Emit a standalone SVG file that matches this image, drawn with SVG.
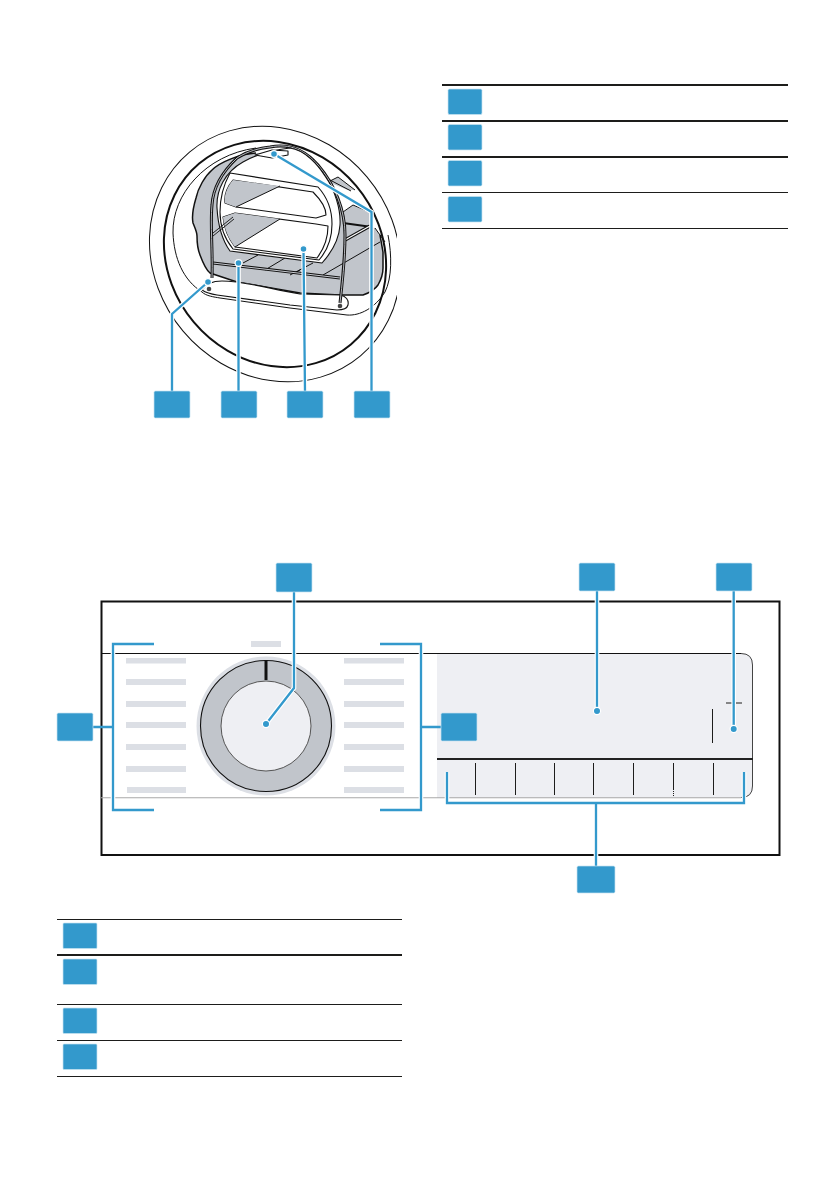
<svg xmlns="http://www.w3.org/2000/svg" width="840" height="1192" viewBox="0 0 840 1192">
<defs>
<style>
.box{fill:#3399cc;stroke:#c6e2f0;stroke-width:.7}
.halo{fill:none;stroke:#fff;stroke-width:4.6}
.lead{fill:none;stroke:#3399cc;stroke-width:2.3}
.dot{fill:#3399cc;stroke:#fff;stroke-width:1.2}
.bar{fill:#dcdfe5}
.rule{stroke:#1d1d1b;stroke-width:1.2}
.ruleb{stroke:#1d1d1b;stroke-width:2}
.tick{stroke:#1d1d1b;stroke-width:1}
.ln{fill:none;stroke:#111;stroke-width:1}
.gr{fill:#c1c5cb;stroke:none}
.fr{fill:#fff;stroke:#111;stroke-width:1.1;stroke-linejoin:round}
</style>
<clipPath id="c"><rect x="130" y="100" width="267" height="320"/></clipPath>
</defs>
<rect width="840" height="1192" fill="#fff"/>

<g id="door-illustration" clip-path="url(#c)">
<ellipse cx="275" cy="254" rx="133" ry="120" transform="rotate(50 275 254)" fill="#fff" stroke="#111" stroke-width="1"/>
<ellipse cx="275" cy="254" rx="118" ry="106" transform="rotate(50 275 254)" fill="#fff" stroke="#111" stroke-width="2"/>
<path class="ln" d="M256 148C205 155 172 195 173 233C174 258 183 280 202 292"/>
<path class="ln" stroke-width="1.200" d="M347 315C360 316 375 308 385 292C392 278 392 255 388 235"/>
<path d="M256 153C240 154 220 162 212 170C205 176 198 188 196 198C193 208 192 218 193 223C195 228 197 232 197 236C197 245 198 250 200 255C203 263 206 270 210 273L237 282L300 293L340 295L363 295C370 293 376 288 378 285C382 278 383 272 383 268L383 252L380 235L375 228L372 227L372 213L353 205L343 212L330 190L290 160Z" class="gr"/>
<path d="M256 153C240 154 220 162 212 170C205 176 198 188 196 198C193 208 192 218 193 223C195 228 197 232 197 236C197 245 198 250 200 255C203 263 206 270 210 273L237 282L300 293L340 295L363 295C370 293 376 288 378 285C382 278 383 272 383 268L383 252L380 235" fill="none" stroke="#111" stroke-width="1.500"/>
<path d="M328 182L338 177L355 190L348 190Z" class="gr"/>
<path class="ln" d="M338 177L355 190M328 182L338 177M330 180L351 191M353 205L372 213M343 212L353 205M375 228L385 242"/>
<path d="M343 223L372 227" fill="none" stroke="#111" stroke-width="2"/>
<path d="M345 240L370 226" fill="none" stroke="#111" stroke-width="3.200"/>
<path d="M345 240L370 226" fill="none" stroke="#fff" stroke-width="1.200"/>
<path class="ln" d="M323 275L380 242M243 263L258 255M265 270L285 258M295 273L300 270M290 275L313 263"/>
<path d="M213 263L340 278" fill="none" stroke="#111" stroke-width="3"/>
<path d="M213 263L340 278" fill="none" stroke="#c9ccd2" stroke-width="1"/>
<path d="M202 290C205 285 212 281 222 281C245 281 270 289 300 294L340 295C346 296 349 300 348 305C347 309 343 310 337 310L290 305L217 295C210 294 205 292 202 290Z" class="fr"/>
<path class="ln" d="M202 292C206 296 214 297 220 298L290 308L347 315"/>
<path d="M212 278C213 250 210 225 212 205C213 188 222 172 237 158C248 151 260 148 270 147C290 143 305 150 318 165C335 185 345 210 345 235C345 260 342 285 340 303" fill="none" stroke="#111" stroke-width="3"/>
<path d="M212 278C213 250 210 225 212 205C213 188 222 172 237 158C248 151 260 148 270 147C290 143 305 150 318 165C335 185 345 210 345 235C345 260 342 285 340 303" fill="none" stroke="#c9ccd2" stroke-width=".9"/>
<path class="fr" d="M230 251C222 240 218 225 217 208C216 190 225 172 243 162C255 155 275 150 290 148C305 150 318 165 325 176C335 190 341 210 340 225C339 240 332 252 322 263Z"/>
<path class="fr" d="M230 173L318 187C328 198 332 212 332 224C332 240 326 252 319 260L233 249C224 238 220 225 220 212C220 198 224 184 230 173Z" fill="#fff"/>
<path class="fr" d="M233 180L313 192C321 200 326 208 326 215L316 218L236 207L225 203C224 195 227 187 233 180Z"/>
<path class="gr" d="M233 180L280 186L236 207L225 203C224 195 227 187 233 180Z"/>
<path class="ln" d="M280 186L236 207"/>
<path class="fr" d="M223 217L235 213L316 224L328 226C328 240 323 250 317 258L235 247C228 238 224 228 223 217Z"/>
<path class="gr" d="M223 217L235 213L280 219L235 247C228 238 224 228 223 217Z"/>
<path class="ln" d="M280 219L235 247"/>
<path d="M213 233L233 217M213 236L234 219" fill="none" stroke="#111" stroke-width=".9"/>
<path class="fr" d="M255 155L272 150L288 151L288 155L272 158Z"/>
<circle cx="209" cy="289" r="2.300" fill="#444"/>
<circle cx="340" cy="306" r="2.300" fill="#444"/>
</g>

<g id="control-panel">
<rect x="101.500" y="601.500" width="678" height="253.500" fill="#fff" stroke="#111" stroke-width="2"/>
<path d="M437 653H740Q753 653 753 666V785Q753 798 740 798H437Z" fill="#eeeff3"/>
<path d="M741 653.500Q752.500 653.500 752.500 665V786Q752.500 797.500 741 797.500" fill="none" stroke="#444" stroke-width="1"/>
<path d="M101 653.500H741" stroke="#111" stroke-width="1.100"/>
<path d="M101 797.800H741" stroke="#a8a8a8" stroke-width="1.100"/>
<g class="bar">
<rect x="251" y="641" width="30" height="6"/>
<rect x="126" y="658" width="60" height="5.500"/><rect x="126" y="679" width="60" height="6"/><rect x="126" y="701" width="60" height="6"/><rect x="126" y="722" width="60" height="6"/><rect x="126" y="744" width="60" height="6"/><rect x="126" y="766" width="60" height="6"/><rect x="127" y="787" width="59" height="6"/>
<rect x="344" y="658" width="60" height="5.500"/><rect x="344" y="679" width="60" height="6"/><rect x="344" y="701" width="60" height="6"/><rect x="344" y="722" width="60" height="6"/><rect x="344" y="744" width="60" height="6"/><rect x="344" y="766" width="60" height="6"/><rect x="344" y="787" width="60" height="6"/>
</g>
<g id="dial">
<circle cx="266" cy="726" r="69.500" fill="#dcdfe5"/>
<circle cx="266" cy="726" r="65.500" fill="#c1c5cb" stroke="#111" stroke-width="1.100"/>
<circle cx="266" cy="726" r="45" fill="#eeeff3" stroke="#555" stroke-width="1"/>
<path d="M266 660V680" stroke="#111" stroke-width="3"/>
</g>
<path d="M437 759H753" stroke="#222" stroke-width="2"/>
<g class="tick">
<path d="M475.500 763V795M515.500 763V795M554.500 763V795M593.500 763V795M633.500 763V795M673.500 763V789M713.500 763V795M712.500 709V743M726 703H733M735 703H742"/>
</g>
<path d="M673.500 789V796" stroke="#1d1d1b" stroke-width="1" stroke-dasharray="1 1"/>
</g>

<g id="connectors">
<path class="halo" d="M172 391V314L208 282M238.500 391V263M305 391L303.500 249M371.500 391V212L274 154"/>
<path class="lead" d="M172 391V314L208 282M238.500 391V263M305 391L303.500 249M371.500 391V212L274 154"/>
<path class="halo" d="M294 592V688L266 724M597 591V711M733.700 591V729M596 866V803H447V772M596 803H744V772"/>
<path class="lead" d="M294 592V688L266 724M597 591V711M733.700 591V729M596 866V803H447V772M596 803H744V772"/>
<path class="halo" d="M154 644H113V810H154M380 644H421V810H380"/>
<path class="lead" d="M154 644H113V810H154M93 727H113M380 644H421V810H380M421 727H441"/>
<circle class="dot" cx="208" cy="282" r="3.400"/>
<circle class="dot" cx="238.500" cy="263" r="3.400"/>
<circle class="dot" cx="303.500" cy="249" r="3.400"/>
<circle class="dot" cx="274" cy="154" r="3.400"/>
<circle class="dot" cx="266" cy="724" r="3.600"/>
<circle class="dot" cx="597" cy="711" r="3.600"/>
<circle class="dot" cx="733.700" cy="729" r="3.600"/>
</g>

<g id="callout-door-1"><rect class="box" x="154" y="391" width="36" height="27" rx="1.500"/></g>
<g id="callout-door-2"><rect class="box" x="221" y="391" width="36" height="27" rx="1.500"/></g>
<g id="callout-door-3"><rect class="box" x="287" y="391" width="36" height="27" rx="1.500"/></g>
<g id="callout-door-4"><rect class="box" x="354" y="391" width="36" height="27" rx="1.500"/></g>
<g id="callout-panel-left"><rect class="box" x="57" y="713" width="36" height="28" rx="1.500"/></g>
<g id="callout-panel-mid"><rect class="box" x="441" y="713" width="36" height="28" rx="1.500"/></g>
<g id="callout-panel-dial"><rect class="box" x="276" y="563" width="36" height="29" rx="1.500"/></g>
<g id="callout-panel-display"><rect class="box" x="579" y="563" width="36" height="28" rx="1.500"/></g>
<g id="callout-panel-right"><rect class="box" x="716" y="563" width="36" height="28" rx="1.500"/></g>
<g id="callout-panel-bottom"><rect class="box" x="577" y="866" width="38" height="27" rx="1.500"/></g>

<g id="legend-top">
<path class="ruleb" d="M442 85H788M442 121H788M442 157H788"/>
<path class="rule" d="M442 192.500H788M442 228.500H788"/>
<rect class="box" x="448" y="89" width="34" height="25.500" rx="1.500"/>
<rect class="box" x="448" y="124.500" width="34" height="25.500" rx="1.500"/>
<rect class="box" x="448" y="160.500" width="34" height="25.500" rx="1.500"/>
<rect class="box" x="448" y="196.500" width="34" height="25.500" rx="1.500"/>
</g>

<g id="legend-bottom">
<path class="rule" d="M57 919.500H402M57 1004.500H402M57 1040.500H402M57 1076.500H402"/>
<path class="ruleb" d="M57 955H402"/>
<rect class="box" x="63" y="923" width="34" height="25.500" rx="1"/>
<rect class="box" x="63" y="959" width="34" height="25.500" rx="1"/>
<rect class="box" x="63" y="1008" width="34" height="25.500" rx="1"/>
<rect class="box" x="63" y="1044" width="34" height="25.500" rx="1"/>
</g>
</svg>
